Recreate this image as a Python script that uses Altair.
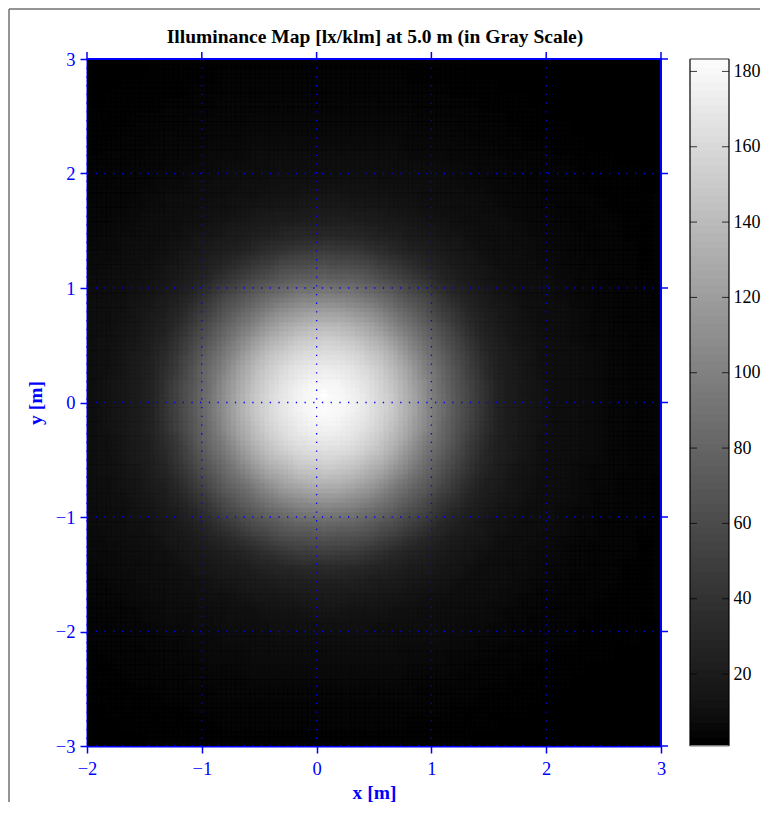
import altair as alt
import pandas as pd

FONT = "Liberation Serif"
BLUE = "#0000ff"
W, H, BAR_L, BAR_R = 574, 687, 603, 642

x_edges = [-2 + 0.125 * i for i in range(41)]
y_edges = [3 - 0.125 * j for j in range(49)]

t00 = [2,2,2,2,3,3,3,3,3,3,3,3,3,3,3,3,3,3,3,3,3,3,3,3,3,3,3,2,2,2,2,2,2,2,2,1,1,1,1,1]
t01 = [2,2,3,3,3,3,3,3,3,4,4,4,4,4,4,4,4,4,4,4,4,4,3,3,3,3,3,3,3,2,2,2,2,2,2,2,2,1,1,1]
t02 = [2,3,3,3,3,3,3,4,4,4,4,4,4,4,4,4,4,4,4,4,4,4,4,4,4,3,3,3,3,3,3,2,2,2,2,2,2,2,2,1]
t03 = [3,3,3,3,3,4,4,4,4,5,5,5,5,5,5,5,5,5,5,5,5,5,5,4,4,4,4,3,3,3,3,3,2,2,2,2,2,2,2,2]
t04 = [3,3,3,4,4,4,4,5,5,5,5,6,6,6,6,6,6,6,6,6,6,6,5,5,5,5,4,4,4,3,3,3,3,3,2,2,2,2,2,2]
t05 = [3,3,4,4,4,5,5,5,6,6,6,7,7,7,7,7,7,7,7,7,7,7,6,6,6,5,5,4,4,4,3,3,3,3,3,2,2,2,2,2]
t06 = [3,4,4,4,5,5,6,6,7,7,7,8,8,8,8,8,8,8,8,8,8,8,7,7,7,6,6,5,5,4,4,4,3,3,3,3,3,2,2,2]
t07 = [4,4,4,5,5,6,6,7,7,8,8,8,8,9,9,9,9,9,9,9,9,8,8,8,8,7,7,6,6,5,5,4,4,4,3,3,3,3,3,2]
t08 = [4,4,5,5,6,7,7,8,8,9,9,10,10,11,11,11,12,11,11,11,10,10,9,9,8,8,7,7,6,5,5,4,4,4,3,3,3,3,3,2]
t09 = [4,5,5,6,7,8,8,9,9,10,11,12,13,14,14,15,15,15,14,14,13,12,11,10,9,9,8,8,7,6,5,5,4,4,4,3,3,3,3,3]
t10 = [5,5,6,7,8,8,9,10,11,12,14,15,17,18,19,20,20,20,19,18,17,15,14,12,11,10,9,8,8,7,6,5,5,4,4,4,3,3,3,3]
t11 = [5,6,7,8,9,9,10,12,14,16,18,20,21,23,24,25,25,25,24,23,21,20,18,16,14,12,10,9,9,8,7,6,5,5,4,4,4,3,3,3]
t12 = [6,7,8,8,9,10,12,15,17,20,22,25,27,30,33,34,35,34,33,30,27,25,22,20,17,15,12,10,9,8,8,7,6,5,5,4,4,3,3,3]
t13 = [7,7,8,9,10,12,15,18,21,24,27,33,39,43,47,49,50,49,47,43,39,33,27,24,21,18,15,12,10,9,8,7,7,5,5,4,4,4,3,3]
t14 = [7,8,9,10,12,15,18,22,26,31,39,46,53,59,62,64,65,64,62,59,53,46,39,31,26,22,18,15,12,10,9,8,7,6,5,5,4,4,3,3]
t15 = [8,9,10,11,14,17,21,26,33,42,52,60,67,73,78,80,82,80,78,73,67,60,52,42,33,26,21,17,14,11,10,9,8,7,6,5,4,4,4,3]
t16 = [8,9,10,13,16,20,25,32,42,54,64,73,82,89,95,98,100,98,95,89,82,73,64,54,42,32,25,20,16,13,10,9,8,7,6,5,5,4,4,3]
t17 = [9,10,12,15,19,23,29,41,53,65,76,86,98,107,114,118,120,118,114,107,98,86,76,65,53,41,29,23,19,15,12,10,9,8,7,5,5,4,4,3]
t18 = [9,10,13,16,21,26,36,49,62,75,88,101,114,124,131,136,137,136,131,124,114,101,88,75,62,49,36,26,21,16,13,10,9,8,7,6,5,4,4,3]
t19 = [9,11,14,18,23,30,42,57,70,84,100,115,129,138,146,150,152,150,146,138,129,115,100,84,70,57,42,30,23,18,14,11,9,8,7,6,5,5,4,4]
t20 = [10,12,15,20,25,34,48,63,78,93,111,127,140,150,158,162,163,162,158,150,140,127,111,93,78,63,48,34,25,20,15,12,10,9,8,7,5,5,4,4]
t21 = [10,12,16,21,26,38,53,68,84,101,120,136,149,159,166,170,172,170,166,159,149,136,120,101,84,68,53,38,26,21,16,12,10,9,8,7,5,5,4,4]
t22 = [10,13,17,22,27,41,56,71,88,107,126,141,155,165,172,177,178,177,172,165,155,141,126,107,88,71,56,41,27,22,17,13,10,9,8,7,5,5,4,4]
t23 = [10,13,17,22,28,42,58,73,90,110,129,145,158,168,176,181,183,181,176,168,158,145,129,110,90,73,58,42,28,22,17,13,10,9,8,7,5,5,4,4]
b00 = [10,13,17,22,28,42,58,73,90,110,129,145,158,168,176,181,182,181,176,168,158,145,129,110,90,73,58,42,28,22,17,13,10,9,8,7,5,5,4,4]
b01 = [10,13,17,22,27,41,56,71,88,107,126,141,155,165,172,177,178,177,172,165,155,141,126,107,88,71,56,41,27,22,17,13,10,9,8,7,5,5,4,4]
b02 = [10,12,16,21,26,38,53,68,84,101,120,136,149,159,166,170,172,170,166,159,149,136,120,101,84,68,53,38,26,21,16,12,10,9,8,7,5,5,4,4]
b03 = [10,12,15,20,25,34,48,63,78,93,111,127,140,150,158,162,163,162,158,150,140,127,111,93,78,63,48,34,25,20,15,12,10,9,8,7,5,5,4,4]
b04 = [9,11,14,18,23,30,42,57,70,84,100,115,129,138,146,150,152,150,146,138,129,115,100,84,70,57,42,30,23,18,14,11,9,8,7,6,5,5,4,4]
b05 = [9,10,13,16,21,26,36,49,62,75,88,101,114,124,131,136,137,136,131,124,114,101,88,75,62,49,36,26,21,16,13,10,9,8,7,6,5,4,4,3]
b06 = [9,10,12,15,19,23,29,41,53,65,76,86,98,107,114,118,120,118,114,107,98,86,76,65,53,41,29,23,19,15,12,10,9,8,7,5,5,4,4,3]
b07 = [8,9,10,13,16,20,25,32,42,54,64,73,82,89,95,98,100,98,95,89,82,73,64,54,42,32,25,20,16,13,10,9,8,7,6,5,5,4,4,3]
b08 = [8,9,10,11,14,17,21,26,33,42,52,60,67,73,78,80,82,80,78,73,67,60,52,42,33,26,21,17,14,11,10,9,8,7,6,5,4,4,4,3]
b09 = [7,8,9,10,12,15,18,22,26,31,39,46,53,59,62,64,65,64,62,59,53,46,39,31,26,22,18,15,12,10,9,8,7,6,5,5,4,4,3,3]
b10 = [7,7,8,9,10,12,15,18,21,24,27,33,39,43,47,49,50,49,47,43,39,33,27,24,21,18,15,12,10,9,8,7,7,5,5,4,4,4,3,3]
b11 = [6,7,8,8,9,10,12,15,17,20,22,25,27,30,33,34,35,34,33,30,27,25,22,20,17,15,12,10,9,8,8,7,6,5,5,4,4,3,3,3]
b12 = [5,6,7,8,9,9,10,12,14,16,18,20,21,23,24,25,25,25,24,23,21,20,18,16,14,12,10,9,9,8,7,6,5,5,4,4,4,3,3,3]
b13 = [5,5,6,7,8,8,9,10,11,12,14,15,17,18,19,20,20,20,19,18,17,15,14,12,11,10,9,8,8,7,6,5,5,4,4,4,3,3,3,3]
b14 = [4,5,5,6,7,8,8,9,9,10,11,12,13,14,14,15,15,15,14,14,13,12,11,10,9,9,8,8,7,6,5,5,4,4,4,3,3,3,3,3]
b15 = [4,4,5,5,6,7,7,8,8,9,9,10,10,11,11,11,12,11,11,11,10,10,9,9,8,8,7,7,6,5,5,4,4,4,3,3,3,3,3,2]
b16 = [4,4,4,5,5,6,6,7,7,8,8,8,8,9,9,9,9,9,9,9,9,8,8,8,8,7,7,6,6,5,5,4,4,4,3,3,3,3,3,2]
b17 = [3,4,4,4,5,5,6,6,7,7,7,8,8,8,8,8,8,8,8,8,8,8,7,7,7,6,6,5,5,4,4,4,3,3,3,3,3,2,2,2]
b18 = [3,3,4,4,4,5,5,5,6,6,6,7,7,7,7,7,7,7,7,7,7,7,6,6,6,5,5,4,4,4,3,3,3,3,3,2,2,2,2,2]
b19 = [3,3,3,4,4,4,4,5,5,5,5,6,6,6,6,6,6,6,6,6,6,6,5,5,5,5,4,4,4,3,3,3,3,3,2,2,2,2,2,2]
b20 = [3,3,3,3,3,4,4,4,4,5,5,5,5,5,5,5,5,5,5,5,5,5,5,4,4,4,4,3,3,3,3,3,2,2,2,2,2,2,2,2]
b21 = [2,3,3,3,3,3,3,4,4,4,4,4,4,4,4,4,4,4,4,4,4,4,4,4,4,3,3,3,3,3,3,2,2,2,2,2,2,2,2,1]
b22 = [2,2,3,3,3,3,3,3,3,4,4,4,4,4,4,4,4,4,4,4,4,4,3,3,3,3,3,3,3,2,2,2,2,2,2,2,2,1,1,1]
b23 = [2,2,2,2,3,3,3,3,3,3,3,3,3,3,3,3,3,3,3,3,3,3,3,3,3,3,3,2,2,2,2,2,2,2,2,1,1,1,1,1]
rows = [t00,t01,t02,t03,t04,t05,t06,t07,t08,t09,t10,t11,t12,t13,t14,t15,t16,t17,t18,t19,t20,t21,t22,t23,
        b00,b01,b02,b03,b04,b05,b06,b07,b08,b09,b10,b11,b12,b13,b14,b15,b16,b17,b18,b19,b20,b21,b22,b23]

tick_x = [-2, -1, 0, 1, 2, 3]
tick_y = [-3, -2, -1, 0, 1, 2, 3]
bar_ticks = [20, 40, 60, 80, 100, 120, 140, 160, 180]
bar_levels = list(range(1, 183, 2))
V_DOM = [0.9, 183.3]
TITLE = "Illuminance Map [lx/klm] at 5.0 m (in Gray Scale)"

cells = pd.DataFrame([
    {"x0": x_edges[i], "x1": min(x_edges[i + 1] + 0.006, 3), "y0": y_edges[j], "y1": y_edges[j + 1] - 0.006, "v": v}
    for j, row in enumerate(rows) for i, v in enumerate(row)
])
xs = alt.Scale(domain=[-2, 3], range=[0, W], nice=False, zero=False)
ys = alt.Scale(domain=[-3, 3], nice=False, zero=False)
cs = alt.Scale(domain=V_DOM, range=["#000000", "#ffffff"])
vs = alt.Scale(domain=V_DOM, nice=False, zero=False)
axis_style = dict(
    labelFont=FONT, labelFontSize=18.5, labelColor=BLUE, titleFont=FONT, titleFontSize=19.5,
    titleFontWeight="bold", titleColor=BLUE, tickColor=BLUE, tickSize=7, tickWidth=1.5,
    domainColor=BLUE, domainWidth=2, grid=False, format="d", labelFlush=False,
    labelOverlap=False, labelBound=False,
)

def heat_layer(dx, dy, op, with_axes=False):
    if with_axes:
        ax = dict(
            x=alt.X("x0:Q", scale=xs, axis=alt.Axis(values=tick_x, title="x [m]", labelPadding=6, titlePadding=6, **axis_style)),
            y=alt.Y("y0:Q", scale=ys, axis=alt.Axis(values=tick_y, title="y [m]", labelPadding=5, titlePadding=10, **axis_style)),
        )
    else:
        ax = dict(x=alt.X("x0:Q", scale=xs), y=alt.Y("y0:Q", scale=ys))
    base = alt.Chart(cells)
    if dx > 0:
        base = base.transform_filter("datum.x0 < 2.87")
    return base.mark_rect(
        clip=True, opacity=op, xOffset=dx, x2Offset=dx, yOffset=dy, y2Offset=dy
    ).encode(x2="x1:Q", y2="y1:Q", fill=alt.Fill("v:Q", scale=cs, legend=None), **ax)

STEP = 14.35 / 3
shifts = [(0, 0), (-1, -1), (0, -1), (1, -1), (-1, 0), (1, 0), (-1, 1), (0, 1), (1, 1)]
heat_layers = [
    heat_layer(a * STEP, b * STEP, 1 / (k + 1), with_axes=(k == 0)) for k, (a, b) in enumerate(shifts)
]

dfx = pd.DataFrame({"x": tick_x})
dfy = pd.DataFrame({"y": tick_y})
grid_v = alt.Chart(dfx).mark_rule(color=BLUE, strokeWidth=1.3, strokeDash=[1.3, 7.4]).encode(
    x=alt.X("x:Q", scale=xs), y=alt.value(0), y2=alt.value(H))
grid_h = alt.Chart(dfy).mark_rule(color=BLUE, strokeWidth=1.3, strokeDash=[1.3, 7.4]).encode(
    y=alt.Y("y:Q", scale=ys), x=alt.value(0), x2=alt.value(W))
top_ticks = alt.Chart(dfx).mark_rule(color=BLUE, strokeWidth=1.5).encode(
    x=alt.X("x:Q", scale=xs), y=alt.value(-7), y2=alt.value(0))
right_ticks = alt.Chart(dfy).mark_rule(color=BLUE, strokeWidth=1.5).encode(
    y=alt.Y("y:Q", scale=ys), x=alt.value(W), x2=alt.value(W + 7))
edge_r = alt.Chart(pd.DataFrame({"x": [3]})).mark_rule(color=BLUE, strokeWidth=2).encode(
    x=alt.X("x:Q", scale=xs), y=alt.value(0), y2=alt.value(H))
edge_t = alt.Chart(pd.DataFrame({"y": [3]})).mark_rule(color=BLUE, strokeWidth=2).encode(
    y=alt.Y("y:Q", scale=ys), x=alt.value(0), x2=alt.value(W))
title = alt.Chart(pd.DataFrame({"t": [TITLE]})).mark_text(
    font=FONT, fontSize=19.5, fontWeight="bold", color="black", baseline="alphabetic", align="center"
).encode(text="t:N", x=alt.value(W / 2 + 1), y=alt.value(-16))
one = pd.DataFrame({"a": [0]})
frame_l = alt.Chart(one).mark_rule(color="#707070", strokeWidth=1.5).encode(
    x=alt.value(-78), y=alt.value(-50), y2=alt.value(743))
frame_t = alt.Chart(one).mark_rule(color="#707070", strokeWidth=1.5).encode(
    x=alt.value(-78), x2=alt.value(673), y=alt.value(-50))

bar_df = pd.DataFrame({"lo": bar_levels, "hi": [v + 2.3 for v in bar_levels]})
bar = alt.Chart(bar_df).mark_rect().encode(
    x=alt.value(BAR_L), x2=alt.value(BAR_R),
    y=alt.Y("lo:Q", scale=vs, axis=alt.Axis(
        orient="right", values=bar_ticks, title=None, ticks=False, domain=False, grid=False,
        labelFont=FONT, labelFontSize=18, labelColor="black", labelPadding=4, labelOverlap=False, labelBound=False)),
    y2="hi:Q",
    fill=alt.Fill("lo:Q", scale=cs, legend=None),
)
dbt = pd.DataFrame({"t": bar_ticks})
bar_t1 = alt.Chart(dbt).mark_rule(color="black", strokeWidth=1, opacity=0.75).encode(
    y=alt.Y("t:Q", scale=vs), x=alt.value(BAR_L), x2=alt.value(BAR_L + 7))
bar_t2 = alt.Chart(dbt).mark_rule(color="black", strokeWidth=1, opacity=0.75).encode(
    y=alt.Y("t:Q", scale=vs), x=alt.value(BAR_R - 7), x2=alt.value(BAR_R))
bar_l = alt.Chart(one).mark_rule(color="black", strokeWidth=1.2).encode(x=alt.value(BAR_L), y=alt.value(0), y2=alt.value(H))
bar_r = alt.Chart(one).mark_rule(color="black", strokeWidth=1.2).encode(x=alt.value(BAR_R), y=alt.value(0), y2=alt.value(H))
bar_top = alt.Chart(one).mark_rule(color="#333333", strokeWidth=1.2).encode(x=alt.value(BAR_L), x2=alt.value(BAR_R), y=alt.value(0))
bar_bot = alt.Chart(one).mark_rule(color="#777777", strokeWidth=1.2).encode(x=alt.value(BAR_L), x2=alt.value(BAR_R), y=alt.value(H))

main = alt.layer(*heat_layers, grid_v, grid_h, top_ticks, right_ticks, edge_r, edge_t, title, frame_l, frame_t)
side = alt.layer(bar, bar_t1, bar_t2, bar_l, bar_r, bar_top, bar_bot)
chart = alt.layer(main, side).resolve_scale(x="independent", y="independent").properties(
    width=BAR_R, height=H, padding=0, background="white"
).configure_view(stroke=None)
chart.save("out.html", embed_options={"renderer": "svg", "actions": False})
